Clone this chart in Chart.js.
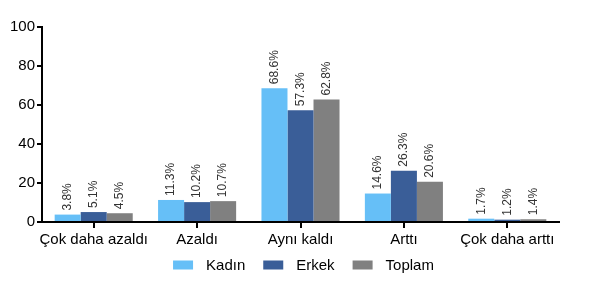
<!DOCTYPE html>
<html>
<head>
<meta charset="utf-8">
<script src="https://cdn.jsdelivr.net/npm/chart.js@4/dist/chart.umd.min.js"></script>
<style>
  html, body { margin: 0; padding: 0; background: #fff; }
  #wrap { width: 602px; height: 287px; }
</style>
</head>
<body>
<div id="wrap"><canvas id="grafico" width="602" height="287"></canvas></div>
<script>
const categorias = ["Çok daha azaldı", "Azaldı", "Aynı kaldı", "Arttı", "Çok daha arttı"];
const kadin = [3.8, 11.3, 68.6, 14.6, 1.7];
const erkek = [5.1, 10.2, 57.3, 26.3, 1.2];
const toplam = [4.5, 10.7, 62.8, 20.6, 1.4];
const yTicks = [0, 20, 40, 60, 80, 100];

const fonte = "'Liberation Sans', Arial, sans-serif";

// rotulos verticais em cima de cada barra
const rotulos = {
    id: "rotulos",
    afterDatasetsDraw(chart) {
        const ctx = chart.ctx;
        ctx.save();
        ctx.font = "12px " + fonte;
        ctx.fillStyle = "#333";
        ctx.textAlign = "left";
        ctx.textBaseline = "middle";
        chart.data.datasets.forEach((ds, i) => {
            chart.getDatasetMeta(i).data.forEach((bar, j) => {
                const txt = ds.data[j].toFixed(1) + "%";
                ctx.save();
                ctx.translate(bar.x, bar.y - 4);
                ctx.rotate(-Math.PI / 2);
                ctx.fillText(txt, 0, 0);
                ctx.restore();
            });
        });
        ctx.restore();
    }
};

// legenda desenhada a mao, com espacamento igual ao original
const legenda = {
    id: "legenda",
    afterDraw(chart) {
        const ctx = chart.ctx;
        const caixaL = 20, caixaA = 9, gapTexto = 13, gapItem = 18;
        const y = 265;
        ctx.save();
        ctx.font = "15px " + fonte;
        ctx.textBaseline = "middle";
        ctx.textAlign = "left";
        const larguras = chart.data.datasets.map(ds => ctx.measureText(ds.label).width);
        let total = 0;
        larguras.forEach(w => total += caixaL + gapTexto + w);
        total += gapItem * (larguras.length - 1);
        let x = (chart.chartArea.left + chart.chartArea.right) / 2 - total / 2 + 3;
        chart.data.datasets.forEach((ds, i) => {
            ctx.fillStyle = ds.backgroundColor;
            ctx.fillRect(x, y - caixaA / 2, caixaL, caixaA);
            ctx.fillStyle = "#000";
            ctx.fillText(ds.label, x + caixaL + gapTexto, y + 1);
            x += caixaL + gapTexto + larguras[i] + gapItem;
        });
        ctx.restore();
    }
};

new Chart(document.getElementById("grafico"), {
    type: "bar",
    data: {
        labels: categorias,
        datasets: [
            { label: "Kadın", data: kadin, backgroundColor: "#66bff7" },
            { label: "Erkek", data: erkek, backgroundColor: "#3a5e98" },
            { label: "Toplam", data: toplam, backgroundColor: "#808080" }
        ]
    },
    options: {
        responsive: false,
        animation: false,
        layout: { padding: { left: 4, right: 43, top: 27, bottom: 35 } },
        datasets: { bar: { categoryPercentage: 0.755, barPercentage: 1 } },
        plugins: {
            legend: { display: false },
            tooltip: { enabled: false }
        },
        scales: {
            x: {
                grid: { display: true, drawOnChartArea: false, offset: false, tickLength: 6, color: "#000", lineWidth: 2 },
                border: { display: true, color: "#000", width: 2 },
                ticks: { color: "#000", font: { size: 15, family: fonte }, maxRotation: 0, autoSkip: false, padding: 3 }
            },
            y: {
                min: 0,
                max: 100,
                afterBuildTicks(axis) { axis.ticks = yTicks.map(v => ({ value: v })); },
                afterFit(axis) { axis.width = 38; },
                grid: { display: true, drawOnChartArea: false, tickLength: 5, color: "#000", lineWidth: 2 },
                border: { display: true, color: "#000", width: 2 },
                ticks: { color: "#000", font: { size: 15, family: fonte }, padding: 2 }
            }
        }
    },
    plugins: [rotulos, legenda]
});
</script>
</body>
</html>
